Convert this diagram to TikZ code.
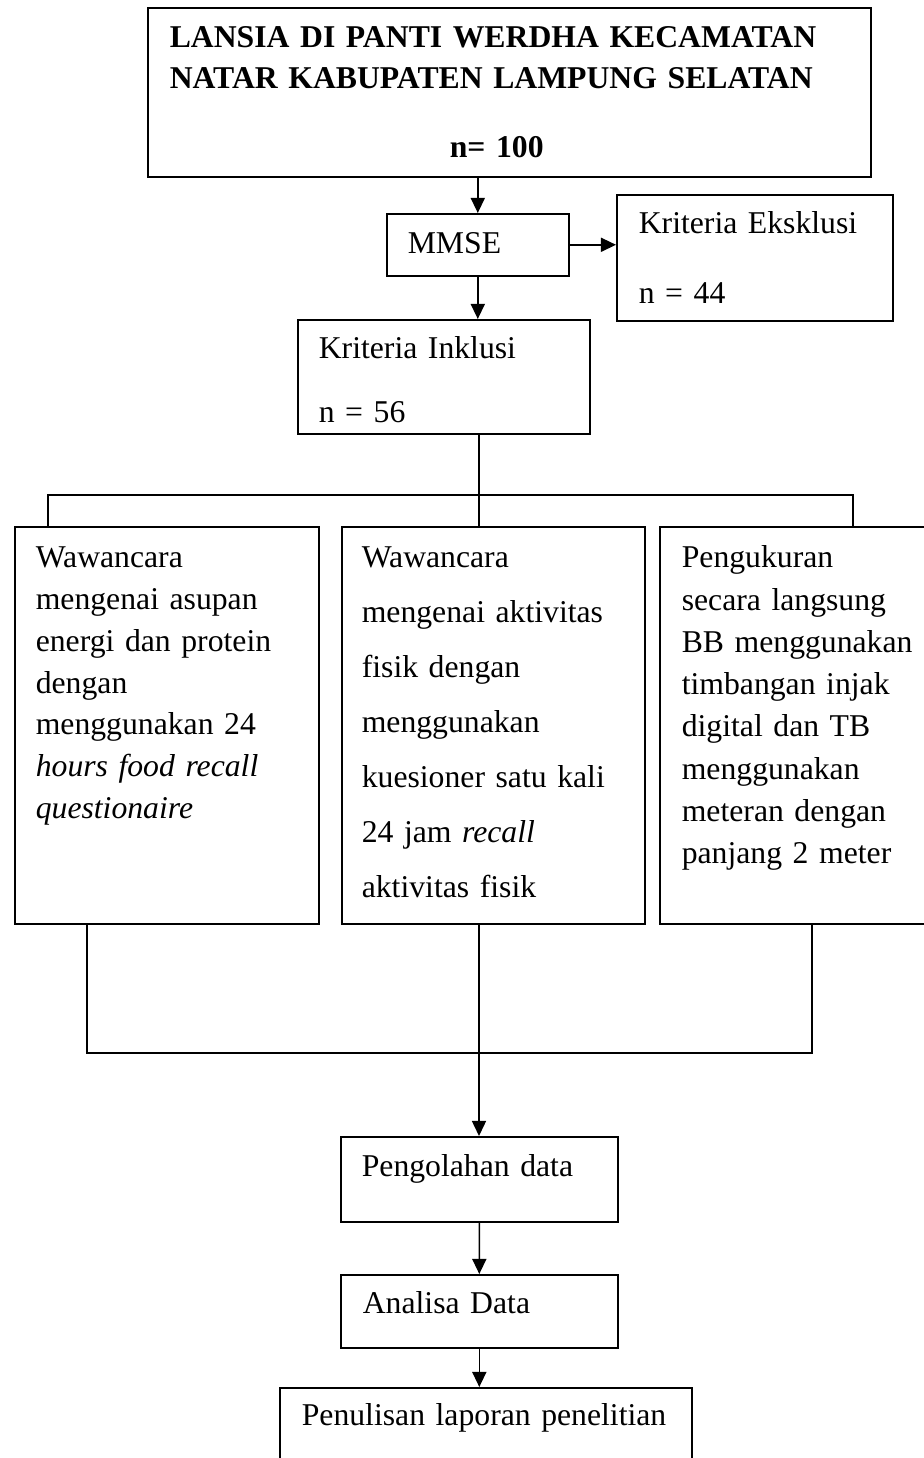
\documentclass[tikz,border=0pt]{standalone}
\usepackage{fontspec}
\setmainfont{Liberation Serif}
\usetikzlibrary{arrows.meta}

\begin{document}
\begin{tikzpicture}[x=0.3785pt, y=-0.3785pt, line width=0.6pt,
    >={Triangle[length=5.7pt, width=5.3pt]},
    kotak/.style={draw, anchor=north west, inner ysep=0pt, align=left,
        font=\fontsize{12pt}{15.8pt}\selectfont}]
    \clip (0,0) rectangle (924,1458);

    % Populasi
    \node[kotak, inner xsep=8.33pt, text width=257pt, text height=15.14pt, text depth=48.83pt,
        font=\fontsize{12pt}{15.5pt}\selectfont\bfseries] (lansia) at (147,7)
        {LANSIA DI PANTI WERDHA KECAMATAN\\NATAR KABUPATEN LAMPUNG SELATAN\\[10.6pt]\hspace*{106pt}n= 100};

    % Skrining
    \node[kotak, inner xsep=7.95pt, text width=52.99pt, text height=15.14pt, text depth=8.33pt] (mmse) at (386,213) {MMSE};
    \node[kotak, inner xsep=8.33pt, text width=87.81pt, text height=14.76pt, text depth=32.93pt] (eksklusi) at (616,194)
        {Kriteria Eksklusi\\[10.7pt]n = 44};
    \node[kotak, inner xsep=7.95pt, text width=94.63pt, text height=14.76pt, text depth=28.39pt] (inklusi) at (297,319)
        {Kriteria Inklusi\\[8.4pt]n = 56};

    % Pengumpulan data
    \node[kotak, inner xsep=7.95pt, text width=99.17pt, text height=15.52pt, text depth=134.75pt] (asupan) at (14,526)
        {Wawancara\\mengenai asupan\\energi dan protein\\dengan\\menggunakan 24\\\textit{hours food recall}\\\textit{questionaire}};
    \node[kotak, inner xsep=7.57pt, text width=99.55pt, text height=15.52pt, text depth=134.75pt,
        font=\fontsize{12pt}{20.8pt}\selectfont] (aktivitas) at (341,526)
        {Wawancara\\mengenai aktivitas\\fisik dengan\\menggunakan\\kuesioner satu kali\\24 jam \textit{recall}\\aktivitas fisik};
    \node[kotak, inner xsep=8.33pt, text width=96.9pt, text height=15.52pt, text depth=134.75pt,
        font=\fontsize{12pt}{16pt}\selectfont] (ukur) at (659,526)
        {Pengukuran\\secara langsung\\BB menggunakan\\timbangan injak\\digital dan TB\\menggunakan\\meteran dengan\\panjang 2 meter};

    % Pengolahan
    \node[kotak, inner xsep=7.95pt, text width=88.95pt, text height=15.14pt, text depth=17.03pt] (olah) at (340,1136) {Pengolahan data};
    \node[kotak, inner xsep=8.33pt, text width=88.19pt, text height=14.76pt, text depth=12.87pt] (analisa) at (340,1274) {Analisa Data};
    \node[kotak, inner xsep=8.33pt, text width=139.29pt, text height=14.38pt, text depth=23.47pt] (laporan) at (279,1387) {Penulisan laporan penelitian};

    % Titik cabang
    \coordinate (bagi) at (479,495);
    \coordinate (bagiL) at (48,495);
    \coordinate (bagiR) at (853,495);
    \coordinate (gabungL) at (87,1053);
    \coordinate (gabungR) at (812,1053);

    % Garis penghubung
    \draw[->] (mmse.north |- lansia.south) -- (mmse.north);
    \draw[->] (mmse.east) -- (eksklusi.west |- mmse.east);
    \draw[->] (mmse.south) -- (mmse.south |- inklusi.north);
    \draw (bagi |- inklusi.south) -- (bagi);
    \draw (bagiL |- asupan.north) -- (bagiL) -- (bagiR) -- (bagiR |- ukur.north);
    \draw (bagi) -- (bagi |- aktivitas.north);
    \draw (gabungL |- asupan.south) -- (gabungL) -- (gabungR) -- (gabungR |- ukur.south);
    \draw[->] (bagi |- aktivitas.south) -- (bagi |- olah.north);
    \draw[->] (olah.south) -- (analisa.north);
    \draw[->] (analisa.south) -- (analisa.south |- laporan.north);
\end{tikzpicture}
\end{document}
